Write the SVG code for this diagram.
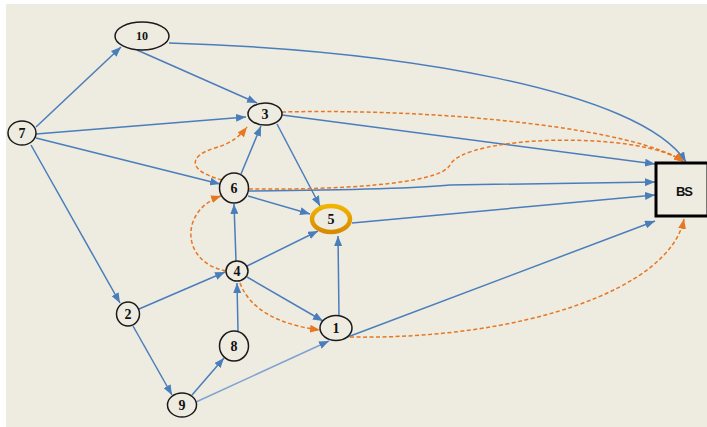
<svg xmlns="http://www.w3.org/2000/svg" width="707" height="427" viewBox="0 0 707 427">
<defs>
<marker id="ab" markerUnits="userSpaceOnUse" markerWidth="10" markerHeight="8" refX="10" refY="4" orient="auto"><path d="M0,0 L10,4 L0,8 z" fill="#4A7EBB"/></marker>
<marker id="ao" markerUnits="userSpaceOnUse" markerWidth="10" markerHeight="8" refX="10" refY="4" orient="auto"><path d="M0,0 L10,4 L0,8 z" fill="#E87722"/></marker>
<linearGradient id="g5" x1="0" y1="0" x2="0" y2="1"><stop offset="0" stop-color="#F2B400"/><stop offset="1" stop-color="#D88A00"/></linearGradient>
</defs>
<style>
.e{fill:none;stroke:#4A7EBB;stroke-width:1.5;marker-end:url(#ab)}
.o{fill:none;stroke:#E87722;stroke-width:1.5;stroke-dasharray:4 2.5;marker-end:url(#ao)}
.n{fill:#EEEBE1;stroke:#1a1a1a;stroke-width:1.5}
.t{font-family:"Liberation Serif","Times New Roman",serif;font-weight:bold;font-size:14px;fill:#111;text-anchor:middle}
</style>
<rect width="707" height="427" fill="#ffffff"/>
<rect x="6" y="4" width="701" height="423" fill="#EEEBE1"/>
<g id="connectors">
<path class="e" d="M36,127 L121,47"/>
<path class="e" d="M137,50 L257,103"/>
<path class="e" d="M169,43 C400,50 640,90 686,162"/>
<path class="e" d="M36,134 L246,117"/>
<path class="e" d="M36,138 L220,184"/>
<path class="e" d="M31,145 L120,303"/>
<path class="e" d="M277,124 L320,206"/>
<path class="e" d="M282,115 L655,164"/>
<path class="e" d="M241,174 L261,126"/>
<path class="e" d="M248,196 L310,214"/>
<path class="e" d="M249,191 C350,190 420,188 450,185 L655,182"/>
<path class="e" d="M352,223 L655,195"/>
<path class="e" d="M236,261 L234,204"/>
<path class="e" d="M247,266 L318,231"/>
<path class="e" d="M247,277 L323,321"/>
<path class="e" d="M139,309 L225,272"/>
<path class="e" d="M133,326 L172,395"/>
<path class="e" d="M238,331 L237,283"/>
<path class="e" d="M192,395 L224,358"/>
<path class="e" d="M196,402 L329,341" style="stroke:#7FA2D2"/>
<path class="e" d="M339,316 L338,236"/>
<path class="e" d="M345,338 L655,221"/>
<path class="o" d="M282,112 C450,108 640,130 684,162"/>
<path class="o" d="M249,189 C330,190 440,185 450,165 C465,135 640,130 684,162"/>
<path class="o" d="M222,180 C185,170 190,155 215,148 C232,143 240,136 247,127"/>
<path class="o" d="M226,271 C180,262 180,210 221,196"/>
<path class="o" d="M240,283 C250,310 280,325 320,330"/>
<path class="o" d="M350,337 C520,340 670,290 684,219"/>
</g>
<g id="n10"><ellipse class="n" cx="142" cy="36" rx="27" ry="14"/><text class="t" x="142" y="40" style="font-size:12px">10</text></g>
<g id="n7"><ellipse class="n" cx="22" cy="133" rx="14" ry="12"/><text class="t" x="22" y="138">7</text></g>
<g id="n3"><ellipse class="n" cx="265" cy="114" rx="17" ry="11"/><text class="t" x="265" y="119">3</text></g>
<g id="n6"><ellipse class="n" cx="234" cy="188" rx="14.5" ry="15"/><text class="t" x="234" y="193">6</text></g>
<g id="n5"><ellipse cx="331" cy="219" rx="19" ry="13" fill="#EEEBE1" stroke="url(#g5)" stroke-width="4.5"/><text class="t" x="331" y="224">5</text></g>
<g id="n4"><ellipse class="n" cx="237" cy="271" rx="11" ry="10"/><text class="t" x="237" y="276">4</text></g>
<g id="n2"><ellipse class="n" cx="128" cy="314" rx="11.5" ry="12"/><text class="t" x="128" y="319">2</text></g>
<g id="n8"><ellipse class="n" cx="234" cy="346" rx="14.5" ry="15"/><text class="t" x="234" y="351">8</text></g>
<g id="n1"><ellipse class="n" cx="336" cy="328" rx="16" ry="12.5"/><text class="t" x="336" y="333">1</text></g>
<g id="n9"><ellipse class="n" cx="182" cy="405" rx="14.5" ry="12"/><text class="t" x="182" y="410">9</text></g>
<g id="bs"><rect x="656" y="163" width="52" height="53" fill="#EEEBE1" stroke="#000" stroke-width="3"/><text x="684" y="196" style="font-family:'Liberation Sans',Arial,sans-serif;font-weight:bold;font-size:13px;letter-spacing:-1px" text-anchor="middle" fill="#111">BS</text></g>
</svg>
